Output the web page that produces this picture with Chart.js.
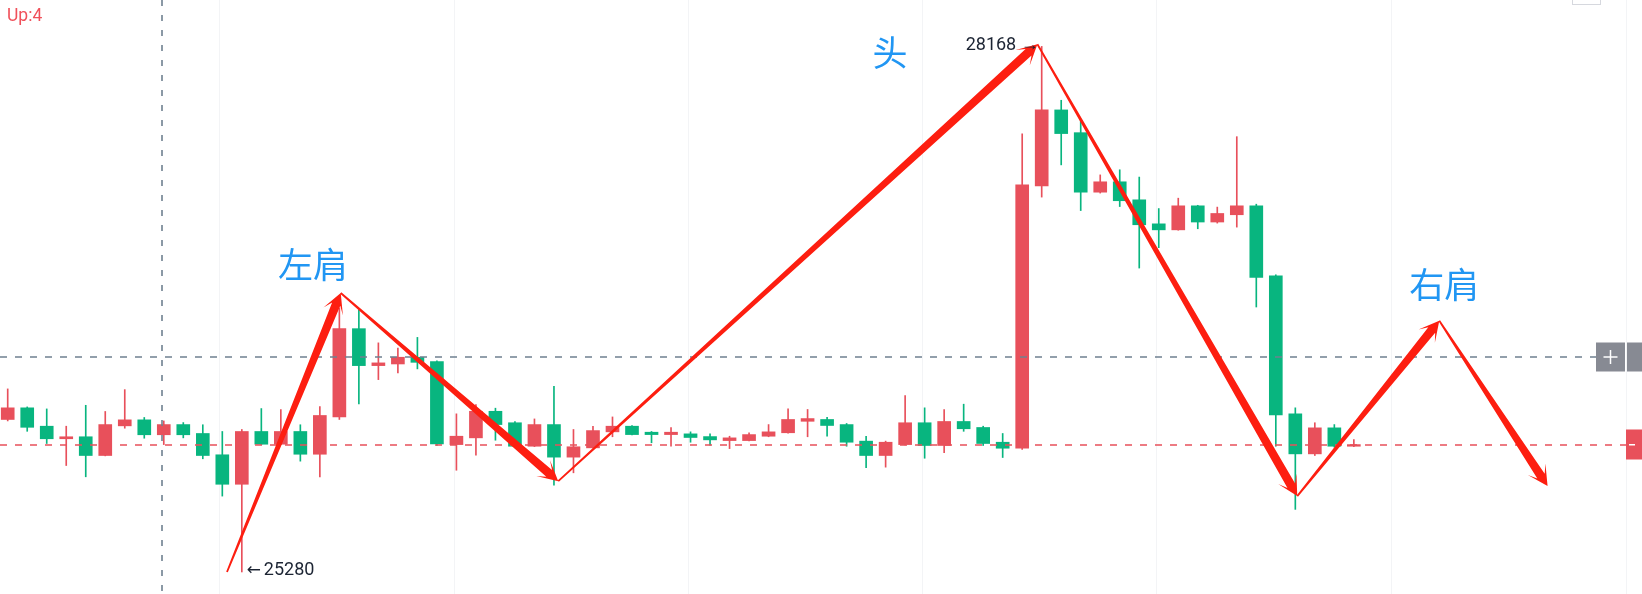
<!DOCTYPE html>
<html>
<head>
<meta charset="utf-8">
<script src="https://cdn.jsdelivr.net/npm/chart.js@4.4.1/dist/chart.umd.min.js"></script>
<style>
  html, body { margin: 0; padding: 0; background: #fff; }
  #wrap { position: relative; width: 1642px; height: 594px; }
</style>
</head>
<body>
<div id="wrap"><canvas id="kline"></canvas></div>
<script>
// candle values, one entry per bar (red = up, green = down)
const opens = [
  26118, 26182, 26081, 26012, 26023, 25920, 26083, 26116, 26034, 26090,
  26041, 25924, 25762, 26052, 25982, 26052, 25927, 26132, 26617, 26414,
  26423, 26460, 26436, 25980, 26017, 26163, 26100, 25971, 26090, 25911,
  25962, 26050, 26081, 26048, 26035, 26039, 26024, 26002, 26002, 26026,
  26045, 26108, 26118, 26090, 25999, 25920, 25980, 26100, 25975, 26107,
  26074, 25993, 25960, 27402, 27819, 27694, 27367, 27424, 27325, 27193,
  27160, 27292, 27203, 27243, 27292, 26908, 26149, 25929, 26072, 25971
]
const highs = [
  26286, 26187, 26176, 26081, 26196, 26162, 26282, 26129, 26110, 26101,
  26089, 26052, 26063, 26178, 26173, 26089, 26189, 26731, 26721, 26539,
  26511, 26569, 26440, 26149, 26200, 26180, 26107, 26121, 26300, 26063,
  26081, 26132, 26085, 26052, 26074, 26050, 26039, 26026, 26045, 26090,
  26176, 26173, 26130, 26096, 26026, 25999, 26249, 26182, 26173, 26202,
  26081, 26041, 27687, 28168, 27872, 27764, 27462, 27490, 27450, 27277,
  27334, 27295, 27285, 27672, 27301, 26913, 26182, 26100, 26090, 26008
]
const lows = [
  26110, 26053, 25986, 25865, 25803, 25918, 26070, 26015, 25980, 26017,
  25902, 25697, 25280, 25979, 25980, 25889, 25803, 26118, 26204, 26337,
  26374, 26396, 25975, 25839, 25922, 26004, 25968, 25969, 25757, 25825,
  25960, 26023, 26033, 25990, 25971, 25993, 25977, 25958, 26000, 26023,
  26043, 26023, 26026, 25971, 25853, 25856, 25978, 25905, 25935, 26053,
  25975, 25909, 25953, 27340, 27517, 27266, 27362, 27288, 26950, 27062,
  27158, 27166, 27197, 27175, 26736, 25971, 25624, 25920, 25966, 25969
]
const closes = [
  26182, 26075, 26012, 26023, 25920, 26090, 26116, 26034, 26090, 26034,
  25920, 25762, 26052, 25982, 26052, 25927, 26140, 26617, 26414, 26429,
  26460, 26432, 25984, 26026, 26163, 26090, 25971, 26090, 25911, 25968,
  26057, 26081, 26035, 26035, 26048, 26019, 26006, 26017, 26035, 26050,
  26118, 26123, 26085, 25993, 25920, 25993, 26100, 25975, 26107, 26067,
  25986, 25960, 27407, 27819, 27689, 27367, 27424, 27320, 27188, 27160,
  27292, 27203, 27250, 27292, 26899, 26143, 25929, 26072, 25971, 25980
]

// head-and-shoulders path drawn over the candles: bar index / price
const pathIndex = [11.24, 17.07, 28.22, 52.78, 66.1, 73.38, 78.93]
const pathPrice = [25280, 26813, 25779, 28180, 25697, 26661, 25752]

const labelText = ['左肩', '头', '右肩']
const labelIndex = [15.65, 45.22, 73.64]
const labelPrice = [26966, 28132, 26861]

// vertical grid lines (bar index) and horizontal step
const timeGrid = [10.88, 22.9, 34.92, 46.91, 58.91, 70.95, 82.95]
const priceStep = 500

const crosshairIndex = 7.93
const crosshairPrice = 26463
const upCount = 4

const UP = '#e8505b'
const DOWN = '#08b57f'
const ARROW = '#fd1e10'

const idx = opens.map((_, i) => i)
const candleColor = idx.map(i => (closes[i] >= opens[i] ? UP : DOWN))
const lastPrice = closes[closes.length - 1]

function taperArrow(ctx, x0, y0, x1, y1) {
  const len = Math.hypot(x1 - x0, y1 - y0)
  const ux = (x1 - x0) / len, uy = (y1 - y0) / len
  const nx = -uy, ny = ux
  const tail = 0.9, neck = 4.4, neckBack = 12, headLen = 20, headHalf = 10.5
  const bx = x1 - ux * neckBack, by = y1 - uy * neckBack
  const hx = x1 - ux * headLen, hy = y1 - uy * headLen
  ctx.beginPath()
  ctx.moveTo(x0 + nx * tail, y0 + ny * tail)
  ctx.lineTo(bx + nx * neck, by + ny * neck)
  ctx.lineTo(hx + nx * headHalf, hy + ny * headHalf)
  ctx.lineTo(x1, y1)
  ctx.lineTo(hx - nx * headHalf, hy - ny * headHalf)
  ctx.lineTo(bx - nx * neck, by - ny * neck)
  ctx.lineTo(x0 - nx * tail, y0 - ny * tail)
  ctx.closePath()
  ctx.fill()
}

const overlay = {
  id: 'overlay',
  afterDatasetsDraw(chart) {
    const { ctx, chartArea } = chart
    const xs = chart.scales.x, ys = chart.scales.y
    const right = chartArea.right
    ctx.save()

    // last price line
    const py = Math.round(ys.getPixelForValue(lastPrice))
    ctx.lineWidth = 1.6
    ctx.setLineDash([7, 8])
    ctx.strokeStyle = UP
    ctx.beginPath()
    ctx.moveTo(0, py)
    ctx.lineTo(right - 16, py)
    ctx.stroke()

    // crosshair
    const cx = Math.round(xs.getPixelForValue(crosshairIndex))
    const cy = Math.round(ys.getPixelForValue(crosshairPrice))
    ctx.strokeStyle = '#6f8090'
    ctx.setLineDash([6, 9])
    ctx.beginPath()
    ctx.moveTo(cx, 0)
    ctx.lineTo(cx, chartArea.bottom)
    ctx.stroke()
    ctx.setLineDash([7, 8])
    ctx.beginPath()
    ctx.moveTo(0, cy)
    ctx.lineTo(right - 46, cy)
    ctx.stroke()
    ctx.setLineDash([])

    // pattern arrows
    ctx.fillStyle = ARROW
    for (let i = 0; i < pathIndex.length - 1; i++) {
      taperArrow(ctx,
        xs.getPixelForValue(pathIndex[i]), ys.getPixelForValue(pathPrice[i]),
        xs.getPixelForValue(pathIndex[i + 1]), ys.getPixelForValue(pathPrice[i + 1]))
    }

    // pattern labels
    ctx.fillStyle = '#2196f3'
    ctx.font = '35px "Noto Sans CJK SC"'
    ctx.textAlign = 'center'
    ctx.textBaseline = 'middle'
    labelText.forEach((t, i) => {
      ctx.fillText(t, xs.getPixelForValue(labelIndex[i]), ys.getPixelForValue(labelPrice[i]))
    })

    // highest / lowest marks
    const hi = highs.indexOf(Math.max(...highs))
    const lo = lows.indexOf(Math.min(...lows))
    ctx.fillStyle = '#1c2433'
    ctx.font = '18px Roboto'
    ctx.textAlign = 'right'
    ctx.fillText(highs[hi] + ' \u2192', xs.getPixelForValue(hi) - 3, ys.getPixelForValue(highs[hi]) - 1)
    ctx.textAlign = 'left'
    ctx.font = '17px "DejaVu Sans"'
    ctx.fillText('\u2190', xs.getPixelForValue(lo) + 5, ys.getPixelForValue(lows[lo]) - 1)
    ctx.font = '18px Roboto'
    ctx.fillText(String(lows[lo]), xs.getPixelForValue(lo) + 22, ys.getPixelForValue(lows[lo]) - 1)

    // right edge widgets
    ctx.fillStyle = '#878a93'
    ctx.fillRect(right - 46, cy - 14.5, 29, 29)
    ctx.fillRect(right - 15, cy - 14.5, 15, 29)
    ctx.strokeStyle = '#fff'
    ctx.lineWidth = 1.5
    ctx.beginPath()
    ctx.moveTo(right - 38.5, cy)
    ctx.lineTo(right - 24.5, cy)
    ctx.moveTo(right - 31.5, cy - 7)
    ctx.lineTo(right - 31.5, cy + 7)
    ctx.stroke()

    ctx.fillStyle = UP
    ctx.fillRect(right - 16, py - 15.5, 16, 30)
    ctx.fillStyle = '#fff'
    ctx.fillRect(right - 13, py - 1, 6, 1.5)

    ctx.strokeStyle = '#d6d8de'
    ctx.lineWidth = 1
    ctx.strokeRect(right - 69.5, -10.5, 28, 15)

    // up counter
    ctx.fillStyle = '#f0505a'
    ctx.font = '17.5px Roboto'
    ctx.textAlign = 'left'
    ctx.textBaseline = 'alphabetic'
    ctx.fillText('Up:' + upCount, 7, 21)
    ctx.restore()
  }
}

new Chart(document.getElementById('kline'), {
  type: 'bar',
  data: {
    datasets: [
      {
        data: idx.map(i => ({ x: i, y: [lows[i], highs[i]] })),
        backgroundColor: candleColor,
        barThickness: 1,
        grouped: false,
        order: 2
      },
      {
        data: idx.map(i => ({ x: i, y: [opens[i], closes[i]] })),
        backgroundColor: candleColor,
        barThickness: 13,
        minBarLength: 1,
        grouped: false,
        order: 1
      }
    ]
  },
  options: {
    animation: false,
    responsive: true,
    maintainAspectRatio: false,
    events: [],
    layout: { padding: 0 },
    plugins: { legend: { display: false }, tooltip: { enabled: false } },
    scales: {
      x: {
        type: 'linear',
        min: -0.395,
        max: 83.77,
        offset: false,
        afterBuildTicks: axis => { axis.ticks = timeGrid.map(v => ({ value: v })) },
        grid: { color: '#f3f4f6', drawTicks: false, offset: false },
        border: { display: false },
        ticks: { display: false }
      },
      y: {
        type: 'linear',
        min: 25159,
        max: 28423,
        beginAtZero: false,
        afterBuildTicks: axis => {
          axis.ticks = axis.ticks.filter(t => t.value % priceStep === 0)
        },
        ticks: { display: false, stepSize: priceStep },
        grid: { color: '#f3f4f6', drawTicks: false },
        border: { display: false }
      }
    }
  },
  plugins: [overlay]
})
</script>
</body>
</html>
